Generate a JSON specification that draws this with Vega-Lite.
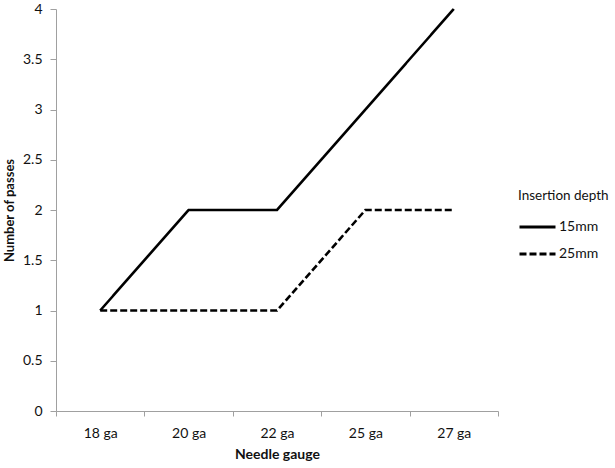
{
  "$schema": "https://vega.github.io/schema/vega-lite/v6.json",
  "width": 442,
  "height": 402,
  "autosize": {"type": "none"},
  "padding": {"left": 56, "top": 9, "right": 117, "bottom": 57},
  "background": "white",
  "config": {
    "font": "Lato",
    "view": {"stroke": null},
    "axis": {"grid": false, "domainColor": "#a0a0a0", "tickColor": "#a0a0a0", "labelColor": "#111", "titleColor": "#111", "labelFont": "Lato", "titleFont": "Lato"}
  },
  "data": {
    "values": [
      {"gauge": "18 ga", "depth": "15mm", "passes": 1},
      {"gauge": "20 ga", "depth": "15mm", "passes": 2},
      {"gauge": "22 ga", "depth": "15mm", "passes": 2},
      {"gauge": "25 ga", "depth": "15mm", "passes": 3},
      {"gauge": "27 ga", "depth": "15mm", "passes": 4},
      {"gauge": "18 ga", "depth": "25mm", "passes": 1},
      {"gauge": "20 ga", "depth": "25mm", "passes": 1},
      {"gauge": "22 ga", "depth": "25mm", "passes": 1},
      {"gauge": "25 ga", "depth": "25mm", "passes": 2},
      {"gauge": "27 ga", "depth": "25mm", "passes": 2}
    ]
  },
  "mark": {"type": "line", "color": "black", "strokeWidth": 2.6, "strokeCap": "butt"},
  "encoding": {
    "x": {
      "field": "gauge",
      "type": "ordinal",
      "bandPosition": 0.5,
      "sort": ["18 ga", "20 ga", "22 ga", "25 ga", "27 ga"],
      "scale": {"type": "band", "paddingInner": 0, "paddingOuter": 0},
      "axis": {
        "title": "Needle gauge",
        "labelAngle": 0,
        "tickBand": "extent",
        "tickSize": 5,
        "labelPadding": 10,
        "labelFontSize": 14,
        "titleFontSize": 14,
        "titleFontWeight": "bold",
        "titlePadding": 7
      }
    },
    "y": {
      "field": "passes",
      "type": "quantitative",
      "scale": {"domain": [0, 4], "nice": false},
      "axis": {
        "title": "Number of passes",
        "values": [0, 0.5, 1, 1.5, 2, 2.5, 3, 3.5, 4],
        "format": "~g",
        "tickSize": 6,
        "labelPadding": 8,
        "labelFontSize": 14,
        "titleFontSize": 13,
        "titleFontWeight": "bold",
        "titlePadding": 6
      }
    },
    "strokeDash": {
      "field": "depth",
      "type": "nominal",
      "scale": {"domain": ["15mm", "25mm"], "range": [[1, 0], [7, 3]]},
      "legend": {
        "title": "Insertion depth",
        "orient": "none",
        "legendX": 462,
        "legendY": 180,
        "symbolType": "stroke",
        "symbolSize": 1296,
        "symbolStrokeWidth": 2.8,
        "symbolStrokeColor": "black",
        "rowPadding": 0,
        "labelOffset": 2,
        "labelFontSize": 14,
        "labelColor": "#111",
        "titleFontSize": 13.5,
        "titleFontWeight": "normal",
        "titleColor": "#111",
        "titlePadding": 5,
        "labelFont": "Lato",
        "titleFont": "Lato"
      }
    }
  }
}
